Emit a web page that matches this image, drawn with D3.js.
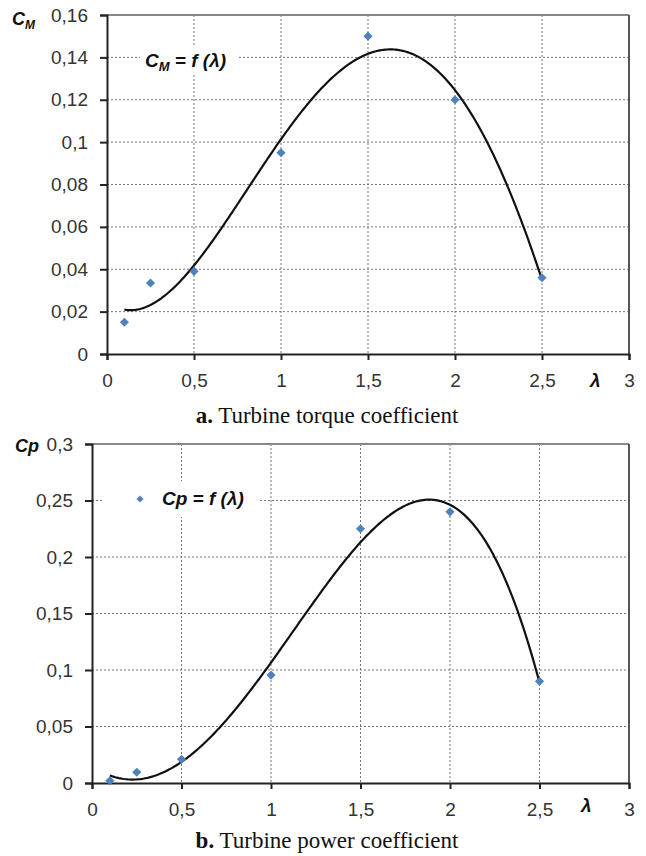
<!DOCTYPE html>
<html><head><meta charset="utf-8">
<script src="https://cdn.jsdelivr.net/npm/d3@7"></script>
<style>
html,body{margin:0;padding:0;background:#fff;}
svg{display:block;}
</style></head>
<body>
<svg id="c" width="646" height="856"></svg>
<script>
// ---- data ----
const lambdaValues = [0.1, 0.25, 0.5, 1.0, 1.5, 2.0, 2.5];
const cmValues = [0.015, 0.0335, 0.039, 0.095, 0.150, 0.120, 0.036];
const cpValues = [0.002, 0.0095, 0.021, 0.0955, 0.225, 0.240, 0.090];
const xTicks = [0, 0.5, 1, 1.5, 2, 2.5, 3];
const cmTicks = [0, 0.02, 0.04, 0.06, 0.08, 0.1, 0.12, 0.14, 0.16];
const cpTicks = [0, 0.05, 0.1, 0.15, 0.2, 0.25, 0.3];
const captionA = ["a.", " Turbine torque coefficient"];
const captionB = ["b.", " Turbine power coefficient"];

const loc = d3.formatLocale({decimal: ",", thousands: ".", grouping: [3], currency: ["", ""]});
const fmt = loc.format("~f");

// least squares polynomial fit (trendline)
function polyfit(xs, ys, deg) {
  const n = deg + 1;
  const A = Array.from({length: n}, () => new Array(n + 1).fill(0));
  for (let i = 0; i < xs.length; i++) {
    for (let r = 0; r < n; r++) {
      for (let c = 0; c < n; c++) A[r][c] += Math.pow(xs[i], r + c);
      A[r][n] += ys[i] * Math.pow(xs[i], r);
    }
  }
  for (let i = 0; i < n; i++) {
    let p = i;
    for (let k = i + 1; k < n; k++) if (Math.abs(A[k][i]) > Math.abs(A[p][i])) p = k;
    [A[i], A[p]] = [A[p], A[i]];
    for (let k = i + 1; k < n; k++) {
      const f = A[k][i] / A[i][i];
      for (let j = i; j <= n; j++) A[k][j] -= f * A[i][j];
    }
  }
  const co = new Array(n).fill(0);
  for (let i = n - 1; i >= 0; i--) {
    let s = A[i][n];
    for (let j = i + 1; j < n; j++) s -= A[i][j] * co[j];
    co[i] = s / A[i][i];
  }
  return x => co.reduce((acc, c, i) => acc + c * Math.pow(x, i), 0);
}

const svg = d3.select("#c");
const FONT = "'Liberation Sans', Arial, sans-serif";
const SERIF = "'Liberation Serif', 'Times New Roman', serif";

function drawChart(cfg) {
  const {x0, x1, y0, y1, yTicks, yMax, values} = cfg;
  const x = d3.scaleLinear().domain([0, 3]).range([x0, x1]);
  const y = d3.scaleLinear().domain([0, yMax]).range([y1, y0]);
  const g = svg.append("g");

  // grid
  g.append("g").selectAll("line").data(xTicks.slice(1, -1)).join("line")
    .attr("x1", d => x(d)).attr("x2", d => x(d)).attr("y1", y0).attr("y2", y1)
    .attr("stroke", "#777").attr("stroke-width", 1).attr("stroke-dasharray", "2,2");
  g.append("g").selectAll("line").data(yTicks.slice(1, -1)).join("line")
    .attr("y1", d => y(d)).attr("y2", d => y(d)).attr("x1", x0).attr("x2", x1)
    .attr("stroke", "#777").attr("stroke-width", 1).attr("stroke-dasharray", "2,2");

  // top/right border
  g.append("line").attr("x1", x0).attr("x2", x1).attr("y1", y0).attr("y2", y0)
    .attr("stroke", "#888").attr("stroke-width", 2);
  g.append("line").attr("x1", x1).attr("x2", x1).attr("y1", y0).attr("y2", y1)
    .attr("stroke", "#555").attr("stroke-width", 2);

  // axes
  const ax = g.append("g").attr("transform", `translate(0,${y1})`)
    .call(d3.axisBottom(x).tickValues(xTicks).tickFormat(fmt).tickSize(6).tickPadding(14));
  const ay = g.append("g").attr("transform", `translate(${x0},0)`)
    .call(d3.axisLeft(y).tickValues(yTicks).tickFormat(fmt).tickSize(7).tickPadding(12));
  [ax, ay].forEach(a => {
    a.select(".domain").attr("stroke", "#222").attr("stroke-width", 2);
    a.selectAll(".tick line").attr("stroke", "#222").attr("stroke-width", 2);
    a.selectAll("text").attr("font-family", FONT).attr("font-size", 19).attr("fill", "#333");
  });

  // legend box
  const lg = g.append("g");
  lg.append("rect").attr("x", cfg.leg.x).attr("y", cfg.leg.y).attr("width", cfg.leg.w).attr("height", cfg.leg.h)
    .attr("fill", "#fff");

  // trendline
  const f = polyfit(lambdaValues, values, 4);
  const pts = d3.range(0, 241).map(i => 0.1 + i * 0.01);
  g.append("path").datum(pts)
    .attr("d", d3.line().x(d => x(d)).y(d => y(f(d))).curve(d3.curveLinear))
    .attr("fill", "none").attr("stroke", "#111").attr("stroke-width", 2.2);

  // markers
  const sym = d3.symbol(d3.symbolSquare, 42);
  g.append("g").selectAll("path").data(lambdaValues.map((l, i) => [l, values[i]])).join("path")
    .attr("d", sym).attr("fill", "#4f81bd")
    .attr("transform", d => `translate(${x(d[0])},${y(d[1])}) rotate(45)`);

  return {g, x, y};
}

// ---- chart a ----
const A = drawChart({x0: 107, x1: 629, y0: 15, y1: 354, yTicks: cmTicks, yMax: 0.16, values: cmValues,
  leg: {x: 140, y: 47, w: 98, h: 26}});
// legend text
const la = A.g.append("text").attr("x", 145).attr("y", 67).attr("font-family", FONT)
  .attr("font-size", 19).attr("font-weight", "bold").attr("font-style", "italic").attr("fill", "#111");
la.append("tspan").text("C");
la.append("tspan").text("M").attr("font-size", 13).attr("dy", 4);
la.append("tspan").text(" = f (λ)").attr("dy", -4);
// y label
const ya = A.g.append("text").attr("x", 12).attr("y", 25).attr("font-family", FONT)
  .attr("font-size", 18).attr("font-weight", "bold").attr("font-style", "italic").attr("fill", "#111");
ya.append("tspan").text("C");
ya.append("tspan").text("M").attr("font-size", 12).attr("dy", 4);
// lambda
A.g.append("text").attr("x", 590).attr("y", 387).attr("font-family", FONT).attr("font-size", 19)
  .attr("font-weight", "bold").attr("font-style", "italic").attr("fill", "#111").text("λ");
// caption
const ca = svg.append("text").attr("x", 327).attr("y", 423).attr("text-anchor", "middle")
  .attr("font-family", SERIF).attr("font-size", 23).attr("fill", "#111");
ca.append("tspan").attr("font-weight", "bold").text(captionA[0]);
ca.append("tspan").text(captionA[1]);

// ---- chart b ----
const B = drawChart({x0: 92, x1: 629, y0: 444, y1: 783, yTicks: cpTicks, yMax: 0.3, values: cpValues,
  leg: {x: 104, y: 481, w: 154, h: 36}});
B.g.append("path").attr("d", d3.symbol(d3.symbolSquare, 26)).attr("fill", "#4f81bd")
  .attr("transform", "translate(140,499) rotate(45)");
B.g.append("text").attr("x", 162).attr("y", 505).attr("font-family", FONT)
  .attr("font-size", 19).attr("font-weight", "bold").attr("font-style", "italic").attr("fill", "#111")
  .text("Cp = f (λ)");
B.g.append("text").attr("x", 15).attr("y", 452).attr("font-family", FONT)
  .attr("font-size", 18).attr("font-weight", "bold").attr("font-style", "italic").attr("fill", "#111")
  .text("Cp");
B.g.append("text").attr("x", 581).attr("y", 812).attr("font-family", FONT).attr("font-size", 19)
  .attr("font-weight", "bold").attr("font-style", "italic").attr("fill", "#111").text("λ");
const cb = svg.append("text").attr("x", 327).attr("y", 848).attr("text-anchor", "middle")
  .attr("font-family", SERIF).attr("font-size", 23).attr("fill", "#111");
cb.append("tspan").attr("font-weight", "bold").text(captionB[0]);
cb.append("tspan").text(captionB[1]);
</script>
</body></html>
